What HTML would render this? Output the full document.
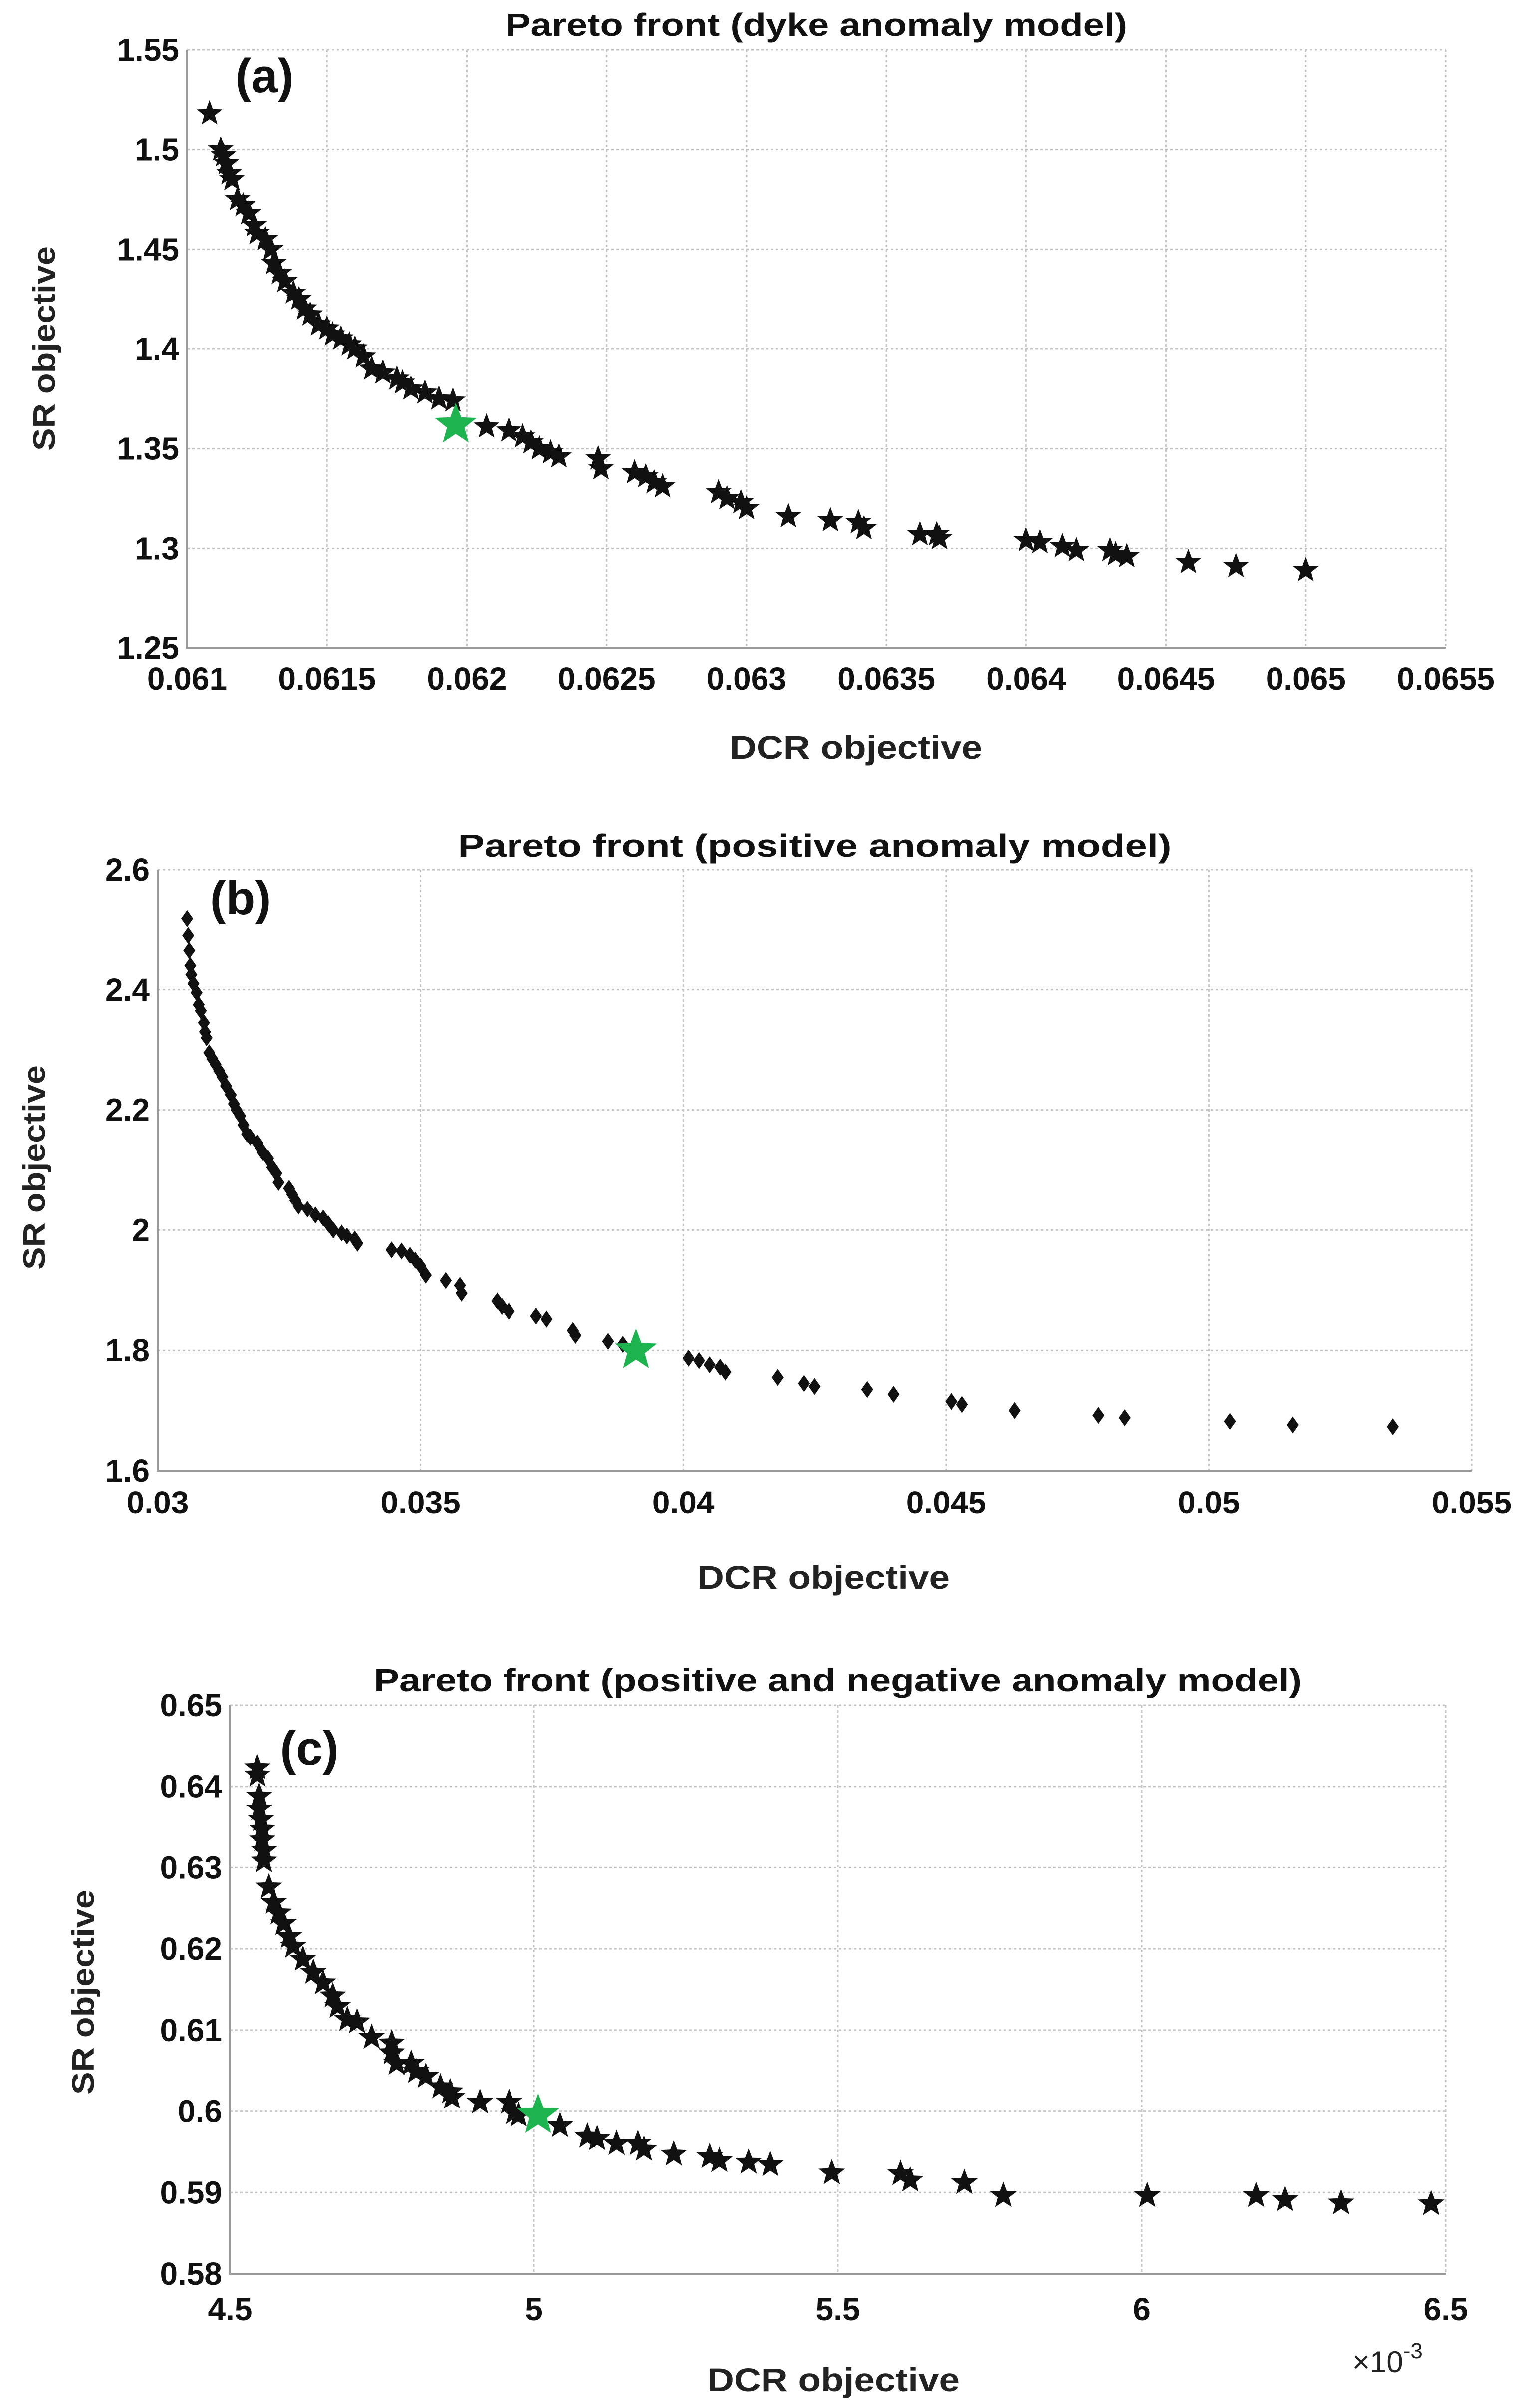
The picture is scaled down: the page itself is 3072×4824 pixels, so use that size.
<!DOCTYPE html>
<html><head><meta charset="utf-8"><style>
html,body{margin:0;padding:0;background:#fff;}
svg{display:block;font-family:"Liberation Sans",sans-serif;font-weight:bold;}
</style></head>
<body>
<svg id="fig" xmlns="http://www.w3.org/2000/svg" width="3072" height="4824" viewBox="0 0 3072 4824">
<rect width="3072" height="4824" fill="#fff"/>
</svg>
<script>
// ---- data panel (a) ----
const aX = [0.06108,0.06112,0.06113,0.06114,0.06115,0.06116,0.06118,0.0612,0.06122,0.06124,0.06125,0.06128,0.0613,0.06131,0.06133,0.06135,0.06138,0.0614,0.06142,0.06144,0.06147,0.0615,0.06152,0.06155,0.06158,0.0616,0.06163,0.06166,0.0617,0.06175,0.06177,0.0618,0.06185,0.0619,0.06195,0.06207,0.06215,0.0622,0.06223,0.06226,0.0623,0.06233,0.06247,0.06248,0.0626,0.06264,0.06267,0.0627,0.0629,0.06293,0.06298,0.063,0.06315,0.0633,0.0634,0.06342,0.06362,0.06368,0.06369,0.064,0.06405,0.06413,0.06418,0.0643,0.06432,0.06436,0.06458,0.06475,0.065];
const aY = [1.518,1.500,1.497,1.493,1.488,1.485,1.475,1.472,1.468,1.462,1.458,1.455,1.45,1.443,1.438,1.434,1.428,1.425,1.42,1.417,1.412,1.41,1.407,1.405,1.402,1.4,1.396,1.39,1.388,1.385,1.383,1.38,1.378,1.375,1.374,1.361,1.359,1.356,1.353,1.35,1.348,1.346,1.345,1.34,1.338,1.336,1.333,1.331,1.328,1.325,1.323,1.32,1.316,1.314,1.313,1.31,1.307,1.307,1.305,1.304,1.303,1.301,1.299,1.299,1.297,1.296,1.293,1.291,1.289];
const aBest = [0.06196, 1.362];
const aXTicks = ["0.061","0.0615","0.062","0.0625","0.063","0.0635","0.064","0.0645","0.065","0.0655"];
const aYTicks = ["1.25","1.3","1.35","1.4","1.45","1.5","1.55"];
// ---- data panel (b) ----
const bX = [0.03056,0.03058,0.0306,0.03062,0.03064,0.03068,0.03074,0.03078,0.03082,0.03088,0.0309,0.03093,0.03098,0.03104,0.0311,0.03117,0.03123,0.0313,0.03139,0.03145,0.0315,0.03157,0.03163,0.0317,0.03176,0.0319,0.032,0.0321,0.03218,0.03226,0.0323,0.0325,0.03256,0.03262,0.03268,0.03285,0.033,0.03315,0.03325,0.03334,0.0335,0.0336,0.03375,0.0338,0.03445,0.03464,0.0348,0.0349,0.035,0.0351,0.03548,0.03575,0.03578,0.03646,0.03655,0.03668,0.0372,0.0374,0.0379,0.03795,0.03857,0.03885,0.0401,0.0403,0.0405,0.0407,0.0408,0.0418,0.0423,0.0425,0.0435,0.044,0.0451,0.0453,0.0463,0.0479,0.0484,0.0504,0.0516,0.0535];
const bY = [2.518,2.49,2.465,2.44,2.425,2.41,2.395,2.375,2.365,2.345,2.33,2.32,2.295,2.285,2.276,2.265,2.255,2.24,2.225,2.21,2.2,2.19,2.175,2.16,2.155,2.145,2.13,2.12,2.105,2.095,2.08,2.07,2.06,2.05,2.04,2.035,2.025,2.02,2.01,2.0,1.995,1.99,1.985,1.978,1.967,1.965,1.958,1.95,1.94,1.925,1.916,1.908,1.895,1.882,1.873,1.865,1.857,1.852,1.833,1.825,1.815,1.81,1.787,1.783,1.776,1.772,1.764,1.755,1.745,1.74,1.735,1.727,1.715,1.71,1.7,1.692,1.688,1.682,1.676,1.673];
const bBest = [0.0391, 1.8];
const bXTicks = ["0.03","0.035","0.04","0.045","0.05","0.055"];
const bYTicks = ["1.6","1.8","2","2.2","2.4","2.6"];
// ---- data panel (c), x in units of 1e-3 ----
const cX = [4.545,4.545,4.548,4.548,4.551,4.553,4.553,4.556,4.556,4.564,4.572,4.58,4.588,4.597,4.604,4.62,4.637,4.653,4.669,4.677,4.693,4.709,4.733,4.766,4.766,4.774,4.798,4.806,4.822,4.846,4.862,4.865,4.911,4.959,4.967,4.975,5.043,5.088,5.104,5.136,5.171,5.181,5.23,5.289,5.305,5.353,5.389,5.49,5.603,5.619,5.708,5.772,6.009,6.188,6.236,6.328,6.476];
const cY = [0.6423,0.6414,0.6388,0.6372,0.6359,0.6347,0.6334,0.6321,0.6308,0.6276,0.6257,0.6244,0.6231,0.6215,0.6203,0.6187,0.6171,0.6158,0.6142,0.6129,0.6113,0.611,0.6091,0.6084,0.6072,0.6059,0.6059,0.6049,0.6043,0.603,0.6024,0.6017,0.6011,0.6011,0.5998,0.5995,0.5982,0.5969,0.5966,0.596,0.596,0.5953,0.5947,0.5944,0.5939,0.5937,0.5934,0.5924,0.5923,0.5915,0.5912,0.5896,0.5896,0.5896,0.5891,0.5887,0.5886];
const cBest = [5.007, 0.5995];
const cXTicks = ["4.5","5","5.5","6","6.5"];
const cYTicks = ["0.58","0.59","0.6","0.61","0.62","0.63","0.64","0.65"];

const NS = "http://www.w3.org/2000/svg";
const svg = document.getElementById('fig');
function mk(tag, attrs, parent, text){
  const e = document.createElementNS(NS, tag);
  for (const k in attrs) e.setAttribute(k, attrs[k]);
  if (text !== undefined) e.textContent = text;
  (parent || svg).appendChild(e);
  return e;
}
function starPts(cx, cy, R){
  const r = R*0.42; const p = [];
  for (let i=0;i<10;i++){
    const ang = -Math.PI/2 + i*Math.PI/5;
    const rr = i%2===0 ? R : r;
    p.push((cx+rr*Math.cos(ang)).toFixed(1)+','+(cy+rr*Math.sin(ang)).toFixed(1));
  }
  return p.join(' ');
}

function panel(cfg){
  const g = mk('g', {});
  
  
  const {L,R,T,B} = cfg;
  const xs = v => L + (v - cfg.xMin)/(cfg.xMax - cfg.xMin)*(R-L);
  const ys = v => B - (v - cfg.yMin)/(cfg.yMax - cfg.yMin)*(B-T);
  cfg.xTicks.forEach(t=>{
    const x = xs(parseFloat(t));
    const ln = mk('line',{x1:x,x2:x,y1:T,y2:B,stroke:'#c4c4c4','stroke-width':3,'stroke-dasharray':'5,5'},g);
    
    
    const tl = mk('text',{x:x,y:cfg.xTickY,'text-anchor':'middle','font-size':64,fill:'#111'},g,t);
    
    
  });
  cfg.yTicks.forEach(t=>{
    const y = ys(parseFloat(t));
    const ln = mk('line',{x1:L,x2:R,y1:y,y2:y,stroke:'#c4c4c4','stroke-width':3,'stroke-dasharray':'5,5'},g);
    
    
    const tl = mk('text',{x:L-16,y:y+22,'text-anchor':'end','font-size':64,fill:'#111'},g,t);
    
    
  });
  const ax = mk('path',{d:`M${L},${T} L${L},${B} L${R},${B}`,fill:'none',stroke:'#9a9a9a','stroke-width':4},g);
  
  
  const ti = mk('text',{x:(L+R)/2,y:cfg.titleY,'text-anchor':'middle','font-size':64,fill:'#111',textLength:cfg.titleLen,lengthAdjust:'spacingAndGlyphs'},g,cfg.title);
  
  
  const xl = mk('text',{x:cfg.xlX,y:cfg.xlY,'text-anchor':'middle','font-size':66,fill:'#222',textLength:506,lengthAdjust:'spacingAndGlyphs'},g,'DCR objective');
  
  
  const yl = mk('text',{x:0,y:0,'text-anchor':'middle','font-size':62,fill:'#222',textLength:410,lengthAdjust:'spacingAndGlyphs',transform:`translate(${cfg.ylX},${cfg.ylY}) rotate(-90)`},g,'SR objective');
  
  
  const pl = mk('text',{x:cfg.plX,y:cfg.plY,'text-anchor':'middle','font-size':96,fill:'#111'},g,cfg.panelLabel);
  
  
  cfg.xData.forEach((v,i)=>{
    let m;
    const cx = xs(v), cy = ys(cfg.yData[i]);
    if (cfg.marker === 'diamond'){
      m = mk('polygon',{points:`${cx},${cy-17} ${cx+12},${cy} ${cx},${cy+17} ${cx-12},${cy}`,fill:'#111'},g);
    } else {
      m = mk('polygon',{points:starPts(cx,cy,cfg.starR),fill:'#111'},g);
    }
    
    
  });
  const best = mk('polygon',{points:starPts(xs(cfg.best[0]),ys(cfg.best[1]),cfg.bestR),fill:'#1db34f'},g);
  
  
  return g;
}

panel({name:'panel-a-dyke',L:375,R:2897,T:100,B:1298,xMin:0.061,xMax:0.0655,yMin:1.25,yMax:1.55,
  xTicks:aXTicks,yTicks:aYTicks,xData:aX,yData:aY,best:aBest,marker:'star',starR:27,bestR:44,
  title:'Pareto front (dyke anomaly model)',titleY:72,titleLen:1246,xTickY:1382,xlX:1715,xlY:1520,ylX:110,ylY:698,
  panelLabel:'(a)',plX:530,plY:185});
panel({name:'panel-b-positive',L:316,R:2949,T:1742,B:2946,xMin:0.03,xMax:0.055,yMin:1.6,yMax:2.6,
  xTicks:bXTicks,yTicks:bYTicks,xData:bX,yData:bY,best:bBest,marker:'diamond',starR:28,bestR:44,
  title:'Pareto front (positive anomaly model)',titleY:1716,titleLen:1430,xTickY:3032,xlX:1650,xlY:3183,ylX:90,ylY:2339,
  panelLabel:'(b)',plX:482,plY:1832});
panel({name:'panel-c-pos-neg',L:461,R:2897,T:3416,B:4555,xMin:4.5,xMax:6.5,yMin:0.58,yMax:0.65,
  xTicks:cXTicks,yTicks:cYTicks,xData:cX,yData:cY,best:cBest,marker:'star',starR:28,bestR:44,
  title:'Pareto front (positive and negative anomaly model)',titleY:3388,titleLen:1860,xTickY:4648,xlX:1670,xlY:4790,ylX:188,ylY:3991,
  panelLabel:'(c)',plX:620,plY:3535});
const ex = mk('text',{x:2710,y:4752,'font-size':60,fill:'#222','font-weight':'normal'},svg);


mk('tspan',{},ex,'×10');
mk('tspan',{dy:-28,'font-size':44},ex,'-3');
</script>
</body></html>
